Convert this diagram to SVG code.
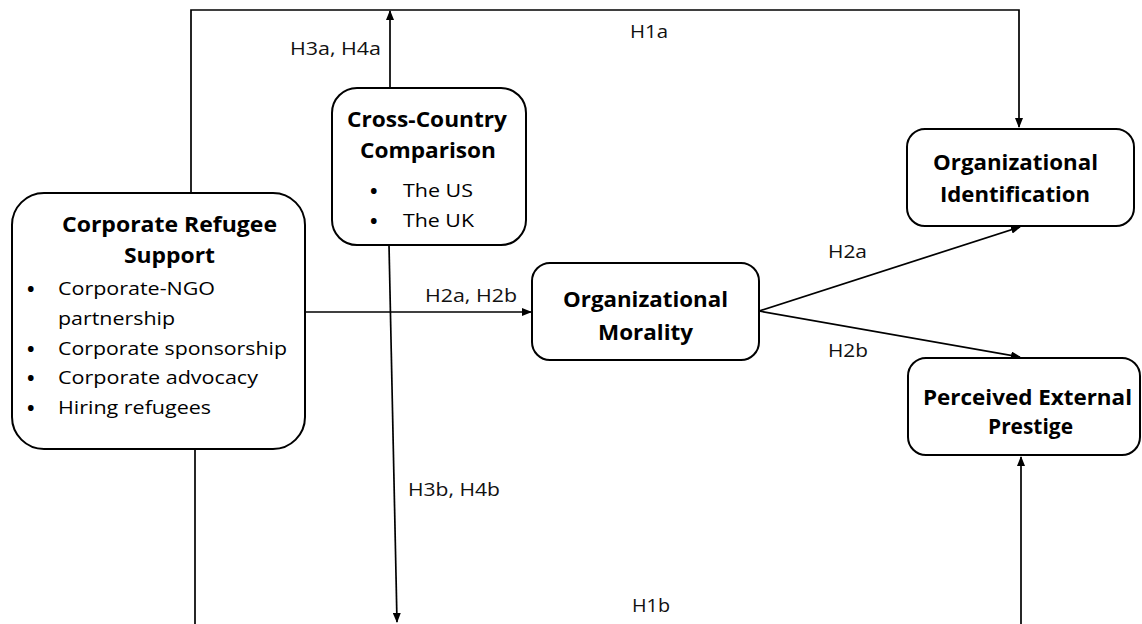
<svg xmlns="http://www.w3.org/2000/svg" width="1142" height="624" viewBox="0 0 1142 624">
<defs>
<marker id="arr" markerUnits="userSpaceOnUse" markerWidth="10" markerHeight="8" refX="9" refY="4" orient="auto">
<path d="M0,0 L10,4 L0,8 z" fill="#000"/>
</marker>
<style>
.box{fill:#fff;stroke:#000;stroke-width:2}
.ln{fill:none;stroke:#000;stroke-width:1.7}
.t{font-family:"Open Sans","Liberation Sans",sans-serif;fill:#000}
.b{font-weight:bold;font-size:21px}
.r{font-size:18.5px}
.bu{font-size:20px;font-weight:bold}
.lb{font-size:19px;fill:#111}
</style>
</defs>
<rect width="1142" height="624" fill="#fff"/>
<g id="connectors">
<path class="ln" d="M191,193 V10 H1019 V127" marker-end="url(#arr)"/>
<line class="ln" x1="390" y1="88" x2="390" y2="11" marker-end="url(#arr)"/>
<line class="ln" x1="305" y1="312" x2="531" y2="312" marker-end="url(#arr)"/>
<line class="ln" x1="389" y1="245" x2="397" y2="622" marker-end="url(#arr)"/>
<line class="ln" x1="759" y1="311" x2="1020" y2="227" marker-end="url(#arr)"/>
<line class="ln" x1="759" y1="311" x2="1020" y2="357" marker-end="url(#arr)"/>
<line class="ln" x1="195" y1="449" x2="195" y2="624"/>
<line class="ln" x1="1021" y1="624" x2="1021" y2="457" marker-end="url(#arr)"/>
<text class="t lb" x="630" y="38" textLength="38" lengthAdjust="spacingAndGlyphs">H1a</text>
<text class="t lb" x="290" y="55" textLength="91" lengthAdjust="spacingAndGlyphs">H3a, H4a</text>
<text class="t lb" x="425" y="302" textLength="92" lengthAdjust="spacingAndGlyphs">H2a, H2b</text>
<text class="t lb" x="408" y="496" textLength="92" lengthAdjust="spacingAndGlyphs">H3b, H4b</text>
<text class="t lb" x="828" y="258" textLength="39" lengthAdjust="spacingAndGlyphs">H2a</text>
<text class="t lb" x="828" y="357" textLength="40" lengthAdjust="spacingAndGlyphs">H2b</text>
<text class="t lb" x="632" y="612" textLength="38" lengthAdjust="spacingAndGlyphs">H1b</text>
</g>
<g id="corporate-refugee-support">
<rect class="box" x="12" y="193" width="293" height="256" rx="32"/>
<text class="t b" x="62" y="232" textLength="215" lengthAdjust="spacingAndGlyphs">Corporate Refugee</text>
<text class="t b" x="124" y="263" textLength="91" lengthAdjust="spacingAndGlyphs">Support</text>
<g class="t bu">
<text x="27" y="296">•</text>
<text x="27" y="356">•</text>
<text x="27" y="385">•</text>
<text x="27" y="415">•</text>
</g>
<g class="t r">
<text x="58" y="295" textLength="157" lengthAdjust="spacingAndGlyphs">Corporate-NGO</text>
<text x="58" y="325" textLength="117" lengthAdjust="spacingAndGlyphs">partnership</text>
<text x="58" y="355" textLength="229" lengthAdjust="spacingAndGlyphs">Corporate sponsorship</text>
<text x="58" y="384" textLength="200" lengthAdjust="spacingAndGlyphs">Corporate advocacy</text>
<text x="58" y="414" textLength="153" lengthAdjust="spacingAndGlyphs">Hiring refugees</text>
</g>
</g>
<g id="cross-country-comparison">
<rect class="box" x="332" y="88" width="194" height="157" rx="25"/>
<text class="t b" x="347" y="127" textLength="160" lengthAdjust="spacingAndGlyphs">Cross-Country</text>
<text class="t b" x="360" y="158" textLength="136" lengthAdjust="spacingAndGlyphs">Comparison</text>
<g class="t bu">
<text x="370" y="198">•</text>
<text x="370" y="228">•</text>
</g>
<g class="t r">
<text x="403" y="197" textLength="70" lengthAdjust="spacingAndGlyphs">The US</text>
<text x="403" y="227" textLength="71" lengthAdjust="spacingAndGlyphs">The UK</text>
</g>
</g>
<g id="organizational-morality">
<rect class="box" x="532" y="263" width="227" height="97" rx="18"/>
<text class="t b" x="563" y="307" textLength="165" lengthAdjust="spacingAndGlyphs">Organizational</text>
<text class="t b" x="598" y="340" textLength="95" lengthAdjust="spacingAndGlyphs">Morality</text>
</g>
<g id="organizational-identification">
<rect class="box" x="907" y="129" width="227" height="97" rx="18"/>
<text class="t b" x="933" y="170" textLength="165" lengthAdjust="spacingAndGlyphs">Organizational</text>
<text class="t b" x="940" y="202" textLength="150" lengthAdjust="spacingAndGlyphs">Identification</text>
</g>
<g id="perceived-external-prestige">
<rect class="box" x="908" y="358" width="232" height="97" rx="18"/>
<text class="t b" x="923" y="405" textLength="209" lengthAdjust="spacingAndGlyphs">Perceived External</text>
<text class="t b" x="988" y="434" textLength="85" lengthAdjust="spacingAndGlyphs">Prestige</text>
</g>
</svg>
